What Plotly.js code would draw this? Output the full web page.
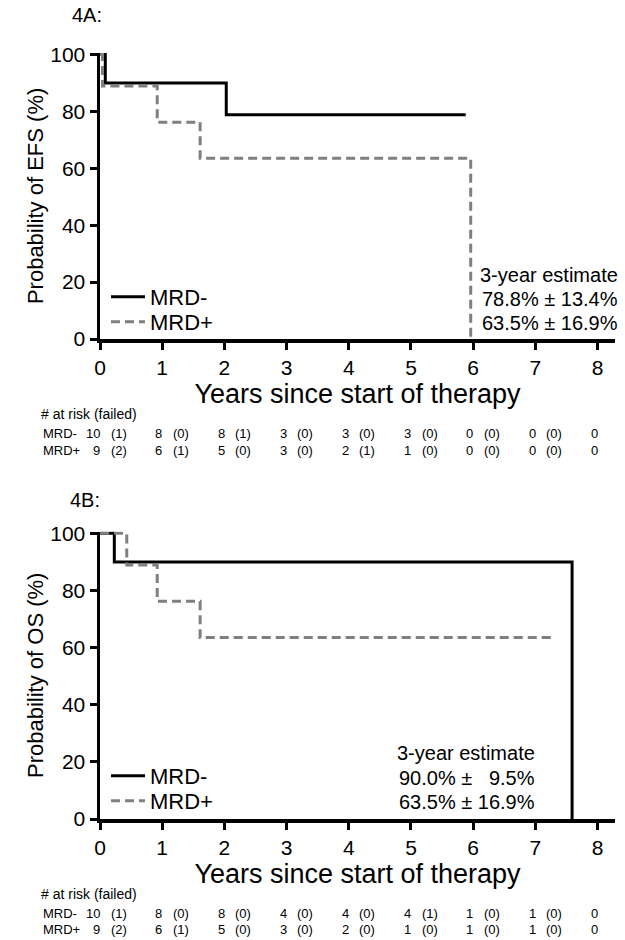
<!DOCTYPE html>
<html>
<head>
<meta charset="utf-8">
<script src="https://cdn.plot.ly/plotly-3.0.1.min.js"></script>
<style>html,body{margin:0;padding:0;background:#fff;}#chart{width:625px;height:940px;}</style>
</head>
<body>
<div id="chart"></div>
<script>
// ---- Data ----
const efsNegX = [0, 0.085, 2.03, 5.88];
const efsNegY = [100, 90, 78.8, 78.8];
const efsPosX = [0, 0.04, 0.92, 1.61, 5.96, 5.96];
const efsPosY = [100, 88.9, 76.2, 63.5, 63.5, 0];
const osNegX = [0, 0.23, 7.59, 7.59];
const osNegY = [100, 90, 90, 0];
const osPosX = [0, 0.43, 0.92, 1.61, 7.27];
const osPosY = [100, 88.9, 76.2, 63.5, 63.5];

const riskYears = [0, 1, 2, 3, 4, 5, 6, 7, 8];
const efsNegRisk = [10, 8, 8, 3, 3, 3, 0, 0, 0];
const efsNegFail = [1, 0, 1, 0, 0, 0, 0, 0];
const efsPosRisk = [9, 6, 5, 3, 2, 1, 0, 0, 0];
const efsPosFail = [2, 1, 0, 0, 1, 0, 0, 0];
const osNegRisk = [10, 8, 8, 4, 4, 4, 1, 1, 0];
const osNegFail = [1, 0, 0, 0, 0, 1, 0, 0];
const osPosRisk = [9, 6, 5, 3, 2, 1, 1, 1, 0];
const osPosFail = [2, 1, 0, 0, 0, 0, 0, 0];

const efsEstimates = ["78.8% \u00B1 13.4%", "63.5% \u00B1 16.9%"];
const osEstimates = ["90.0% \u00B1\u00A0\u00A0\u00A09.5%", "63.5% \u00B1 16.9%"];
const seriesNames = ["MRD-", "MRD+"];

// ---- Layout helpers (pixel -> paper) ----
const W = 625, H = 940, L = 100, R = 10;
const px = x => (x - L) / (W - L - R);
const py = y => 1 - y / H;
const FONT = "Liberation Sans, Arial, sans-serif";
const GRAY = "#7f7f7f";

function kmTrace(x, y, name, xa, ya, dashed, legend) {
  return {
    x: x, y: y, name: name, xaxis: xa, yaxis: ya, legend: legend,
    type: "scatter", mode: "lines", hoverinfo: "skip",
    line: {shape: "hv", color: dashed ? GRAY : "#000", width: 3, dash: dashed ? "9px,5px" : "solid"}
  };
}

const data = [
  kmTrace(efsNegX, efsNegY, seriesNames[0], "x", "y", false, "legend"),
  kmTrace(efsPosX, efsPosY, seriesNames[1], "x", "y", true, "legend2"),
  kmTrace(osNegX, osNegY, seriesNames[0], "x2", "y2", false, "legend3"),
  kmTrace(osPosX, osPosY, seriesNames[1], "x2", "y2", true, "legend4")
];

function xAxis(anchor) {
  return {
    anchor: anchor, domain: [0, 1], range: [0, 8.28], dtick: 1, tick0: 0,
    showgrid: false, zeroline: false, showline: true, linecolor: "#000", linewidth: 3.5,
    ticks: "outside", ticklen: 7, tickwidth: 3, tickcolor: "#000",
    tickfont: {family: FONT, size: 21, color: "#000"},
    title: {text: "Years since start of therapy", font: {family: FONT, size: 27, color: "#000"}, standoff: 4}
  };
}
function yAxis(anchor, domain, label) {
  return {
    anchor: anchor, domain: domain, range: [0, 100.6], dtick: 20, tick0: 0,
    showgrid: false, zeroline: false, showline: true, linecolor: "#000", linewidth: 3.5,
    ticks: "outside", ticklen: 7, tickwidth: 3, tickcolor: "#000",
    tickfont: {family: FONT, size: 21, color: "#000"},
    title: {text: label, font: {family: FONT, size: 22, color: "#000"}, standoff: 1}
  };
}

const annotations = [];
function txt(x, y, text, size, xanchor, xref) {
  annotations.push({x: x, y: y, xref: xref || "paper", yref: "paper", text: text, showarrow: false,
    xanchor: xanchor || "left", yanchor: "middle", borderpad: 0,
    font: {family: FONT, size: size, color: "#000"}});
}

// Panel labels
txt(px(71), py(15), "4A:", 20);
txt(px(69), py(500), "4B:", 20);

// Estimates
txt(px(619), py(275), "3-year estimate", 20, "right");
txt(px(619), py(299), efsEstimates[0], 20, "right");
txt(px(619), py(323), efsEstimates[1], 20, "right");
txt(px(536), py(753), "3-year estimate", 20, "right");
txt(px(536), py(778), osEstimates[0], 20, "right");
txt(px(536), py(802), osEstimates[1], 20, "right");

// At-risk tables
function riskTable(xref, yHead, yNeg, yPos, negRisk, negFail, posRisk, posFail) {
  txt(px(40), py(yHead), "# at risk (failed)", 14, "left");
  txt(px(42), py(yNeg), seriesNames[0], 13, "left");
  txt(px(42), py(yPos), seriesNames[1], 13, "left");
  riskYears.forEach((yr, i) => {
    txt(yr + 0.02, py(yNeg), String(negRisk[i]), 13, "right", xref);
    txt(yr + 0.02, py(yPos), String(posRisk[i]), 13, "right", xref);
    if (i < negFail.length) {
      txt(yr + 0.3, py(yNeg), "(" + negFail[i] + ")", 13, "center", xref);
      txt(yr + 0.3, py(yPos), "(" + posFail[i] + ")", 13, "center", xref);
    }
  });
}
riskTable("x", 414, 433, 450, efsNegRisk, efsNegFail, efsPosRisk, efsPosFail);
riskTable("x2", 894, 913, 929, osNegRisk, osNegFail, osPosRisk, osPosFail);

const legendStyle = (y) => ({
  x: px(106), y: py(y), xanchor: "left", yanchor: "middle", bgcolor: "rgba(0,0,0,0)",
  font: {family: FONT, size: 22, color: "#000"}, itemwidth: 34, borderwidth: 0
});

const layout = {
  width: W, height: H, paper_bgcolor: "#fff", plot_bgcolor: "#fff",
  margin: {l: L, r: R, t: 0, b: 0},
  showlegend: true,
  xaxis: xAxis("y"),
  yaxis: yAxis("x", [py(339), py(52.8)], "Probability of EFS (%)"),
  xaxis2: xAxis("y2"),
  yaxis2: yAxis("x2", [py(819), py(531.6)], "Probability of OS (%)"),
  legend: legendStyle(297),
  legend2: legendStyle(322),
  legend3: legendStyle(776),
  legend4: legendStyle(801),
  annotations: annotations
};

Plotly.newPlot("chart", data, layout, {staticPlot: true, displayModeBar: false});
</script>
</body>
</html>
